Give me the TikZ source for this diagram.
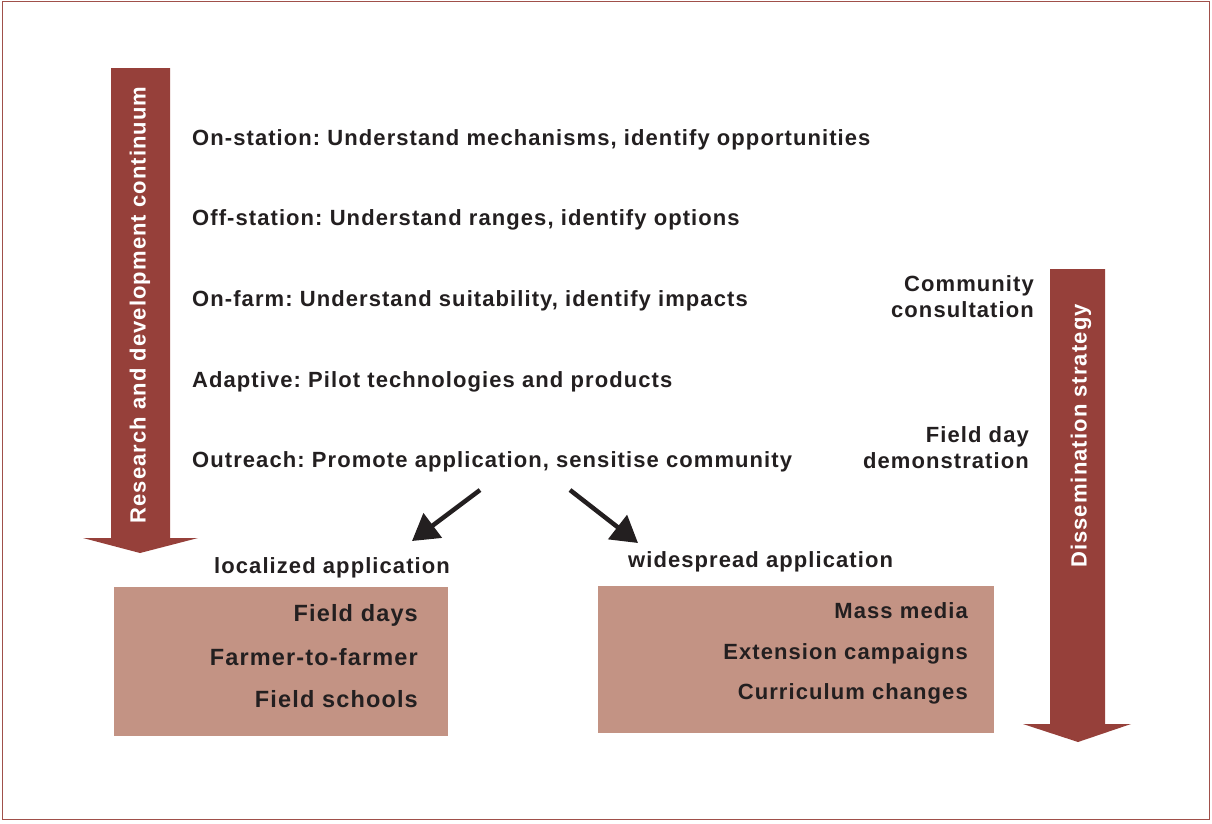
\documentclass[tikz,border=0pt]{standalone}
\usepackage{fontspec}
\setmainfont{Liberation Sans}
\newfontfamily\diagfont[LetterSpace=4.9]{Liberation Sans}
\usetikzlibrary{arrows.meta}
\definecolor{arrowred}{HTML}{96403A}
\definecolor{boxfill}{HTML}{C39384}
\definecolor{frame}{HTML}{A0504A}
\definecolor{ink}{HTML}{231F20}
\tikzset{
  txt/.style={font=\diagfont\fontsize{22}{26}\selectfont\bfseries\frenchspacing, text=ink, inner sep=0pt},
  rowtxt/.style={txt, anchor=base west},
  rtxt/.style={txt, anchor=base east},
  bigrtxt/.style={rtxt, font=\diagfont\fontsize{23.5}{28}\selectfont\bfseries\frenchspacing},
  arrtxt/.style={font=\diagfont\fontsize{22}{26}\selectfont\bfseries\frenchspacing, text=white, inner sep=0pt, rotate=90},
  bigarrow/.style={fill=arrowred, draw=none},
  appbox/.style={fill=boxfill, draw=none},
  pointer/.style={line width=4.5pt, draw=ink, -{Triangle[length=26pt,width=30pt]}},
}
\begin{document}
\begin{tikzpicture}[x=1pt,y=-1pt]
\useasboundingbox (0,0) rectangle (1212,823);
\draw[frame, line width=1.2pt] (2.5,1.5) rectangle (1209.5,819.5);
% big arrows
\fill[bigarrow] (111,68) -- (170,68) -- (170,538) -- (198,538) -- (140,553) -- (83,538) -- (111,538) -- cycle;
\fill[bigarrow] (1050,269) -- (1105,269) -- (1105,724) -- (1131,724) -- (1078,742) -- (1023,724) -- (1050,724) -- cycle;
\node[arrtxt] (rd) at (140,305) {Research and development continuum};
\node[arrtxt] (ds) at (1081,436) {Dissemination strategy};
% rows
\node[rowtxt] (r1) at (192,145) {On-station: Understand mechanisms, identify opportunities};
\node[rowtxt] (r2) at (192,225) {Off-station: Understand ranges, identify options};
\node[rowtxt] (r3) at (192,306) {On-farm: Understand suitability, identify impacts};
\node[rowtxt] (r4) at (192,387) {Adaptive: Pilot technologies and products};
\node[rowtxt] (r5) at (192,467) {Outreach: Promote application, sensitise community};
% dissemination labels
\node[rtxt] (cc1) at (1034,291) {Community};
\node[rtxt] (cc2) at (1034,317) {consultation};
\node[rtxt] (fd1) at (1029,442) {Field day};
\node[rtxt] (fd2) at (1029,468) {demonstration};
% application labels
\node[rowtxt] (loc) at (214,573) {localized application};
\node[rowtxt] (wide) at (628,567) {widespread application};
% boxes
\fill[appbox] (114,587) rectangle (448,736);
\fill[appbox] (598,586) rectangle (994,733);
\node[bigrtxt] (b1) at (418,621) {Field days};
\node[bigrtxt] (b2) at (418,665) {Farmer-to-farmer};
\node[bigrtxt] (b3) at (418,707) {Field schools};
\node[rtxt] (c1) at (968,618) {Mass media};
\node[rtxt] (c2) at (968,659) {Extension campaigns};
\node[rtxt] (c3) at (968,699) {Curriculum changes};
% pointers
\coordinate (pl0) at (480,490);
\coordinate (pl1) at (412,541);
\coordinate (pr0) at (570,490);
\coordinate (pr1) at (638,543);
\draw[pointer] (pl0) -- (pl1);
\draw[pointer] (pr0) -- (pr1);
\end{tikzpicture}
\end{document}
